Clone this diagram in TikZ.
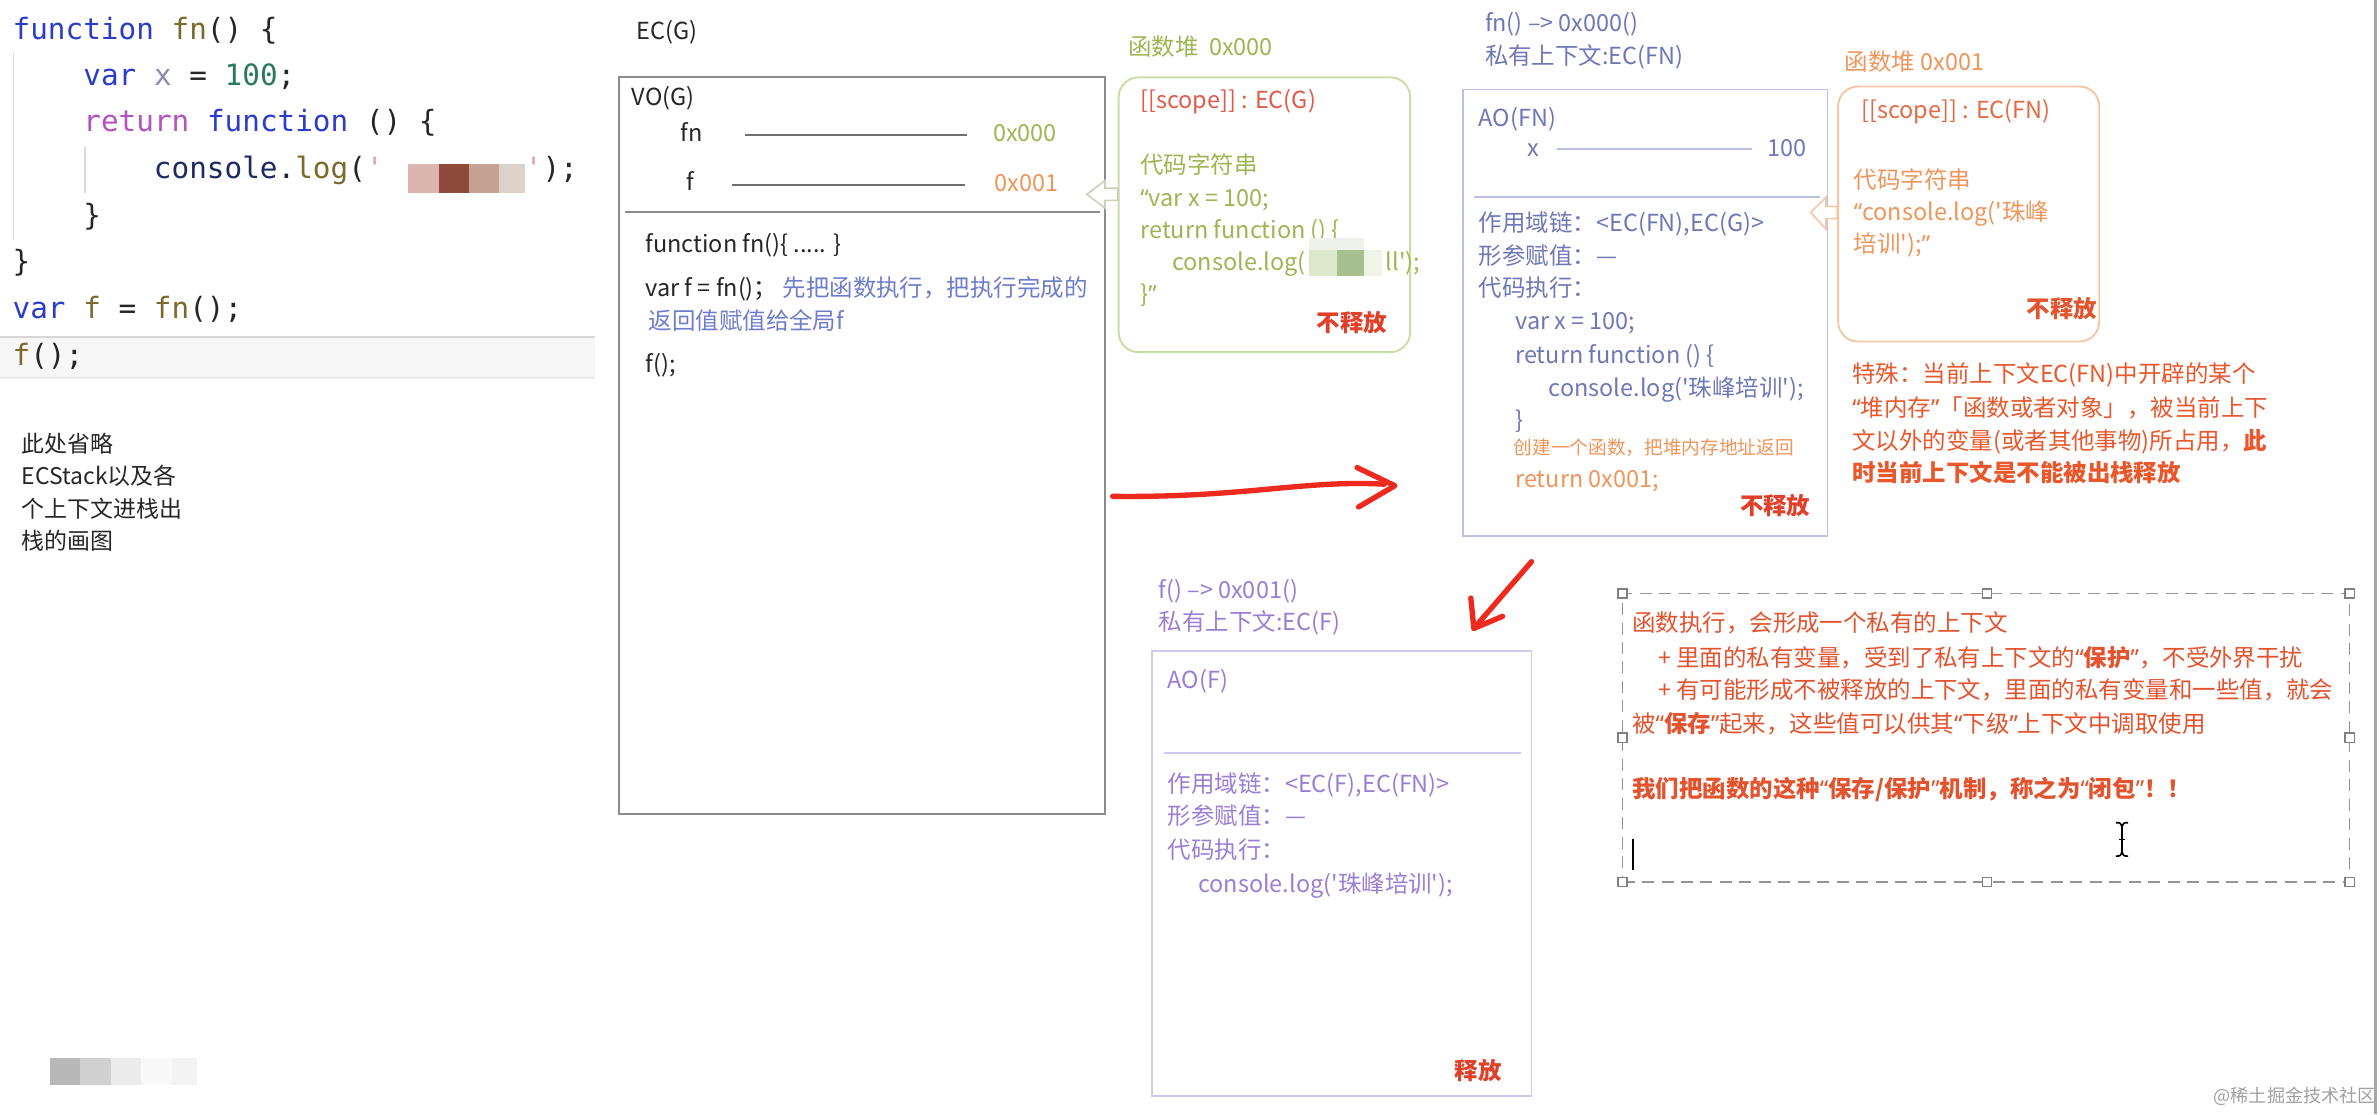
\documentclass[tikz,border=0pt]{standalone}
\usepackage{fontspec}
\setmainfont{Noto Sans CJK SC}
\setmonofont{DejaVu Sans Mono}
\newfontfamily\qfont{Noto Sans}
\font\aposfont="Noto Sans CJK SC" at 8.8pt
\newcommand\qlo{{\qfont “}}
\newcommand\qrc{{\qfont ”}}
\newcommand\apo{{\aposfont '}}
\usetikzlibrary{fit,calc}
\definecolor{ink}{HTML}{262626}
\definecolor{ckwc}{HTML}{2B3CC8}
\definecolor{cfnc}{HTML}{7A6A2C}
\definecolor{cxc}{HTML}{8A8AB2}
\definecolor{cnumc}{HTML}{2A7A5E}
\definecolor{cretc}{HTML}{B452C2}
\definecolor{cconc}{HTML}{1F2A60}
\definecolor{cqc}{HTML}{E8A0A0}
\definecolor{gboxc}{HTML}{8C8C8C}
\definecolor{gline}{HTML}{707070}
\definecolor{bluc}{HTML}{6E7CCB}
\definecolor{grnc}{HTML}{9DB552}
\definecolor{grnb}{HTML}{CADDA2}
\definecolor{orgc}{HTML}{EF955A}
\definecolor{orgb}{HTML}{F5C6A6}
\definecolor{orgd}{HTML}{E36A44}
\definecolor{orge}{HTML}{E0552E}
\definecolor{redc}{HTML}{E0402A}
\definecolor{scopec}{HTML}{E05A4A}
\definecolor{avc}{HTML}{6F78B6}
\definecolor{avb}{HTML}{BCC0E4}
\definecolor{puc}{HTML}{9A7ED6}
\definecolor{pub}{HTML}{D0C8EE}
\definecolor{spc}{HTML}{E8582C}
\definecolor{dbc}{HTML}{E2532E}
\definecolor{penc}{HTML}{EE2A1E}
\definecolor{wmc}{HTML}{A0A0A0}
\definecolor{arrg}{HTML}{C9D3B6}
\definecolor{mza}{HTML}{DCB6AE}
\definecolor{mzb}{HTML}{8E4A3A}
\definecolor{mzc}{HTML}{C6A292}
\definecolor{mzd}{HTML}{DDD3CB}
\definecolor{gya}{HTML}{B8B8B8}
\definecolor{gyb}{HTML}{D0D0D0}
\definecolor{gyc}{HTML}{ECECEC}
\definecolor{gyd}{HTML}{F8F8F8}
\definecolor{gye}{HTML}{F3F3F3}
\definecolor{gma}{HTML}{EEF2EA}
\definecolor{gmb}{HTML}{DCE8CC}
\definecolor{gmc}{HTML}{A8C090}
\definecolor{gmd}{HTML}{EEF4E6}
\newcommand\ckw[1]{\textcolor{ckwc}{#1}}
\newcommand\cfnn[1]{\textcolor{cfnc}{#1}}
\newcommand\cxx[1]{\textcolor{cxc}{#1}}
\newcommand\cnm[1]{\textcolor{cnumc}{#1}}
\newcommand\crt[1]{\textcolor{cretc}{#1}}
\newcommand\ccn[1]{\textcolor{cconc}{#1}}
\newcommand\cqq[1]{\textcolor{cqc}{#1}}
\begin{document}
\begin{tikzpicture}[x=0.02cm,y=-0.02cm,
  txt/.style={anchor=west,inner sep=0pt,text height=6pt,text depth=0pt,font=\fontsize{8.8}{10}\selectfont},
  boldtxt/.style={txt,font=\bfseries\fontsize{8.8}{10}\selectfont},
  smalltxt/.style={txt,text height=4.8pt,font=\fontsize{7}{8}\selectfont},
  notetxt/.style={txt,text height=5.8pt,font=\fontsize{8.6}{10}\selectfont},
  codetxt/.style={anchor=west,inner sep=0pt,text height=6.6pt,text depth=0pt,font=\ttfamily\fontsize{11}{13}\selectfont,text=ink},
  plainbox/.style={draw,inner sep=0pt,line width=0.7pt},
  heapbox/.style={draw,inner sep=0pt,line width=0.7pt,rounded corners=7.4pt},
  vline/.style={draw=gline,line width=0.6pt},
  pen/.style={draw=penc,line width=2pt,line cap=round,line join=round},
  handle/.style={draw=gray,fill=white,line width=0.5pt},
  guide/.style={draw=black!15,line width=0.5pt}]

\useasboundingbox (0,0) rectangle (1568,734);
\fill[white] (0,0) rectangle (1568,734);

% ---------------- left code ----------------
\fill[black!3] (0,222) rectangle (392,249);
\draw[black!16,line width=0.6pt] (0,222) -- (392,222);
\draw[black!8,line width=0.5pt] (0,249) -- (392,249);
\draw[guide] (9,35) -- (9,158);
\draw[guide] (56,97) -- (56,127);
\node[codetxt] (c1) at (8,20) {\ckw{function} \cfnn{fn}() \{};
\node[codetxt] (c2) at (54.6,50.5) {\ckw{var} \cxx{x} = \cnm{100};};
\node[codetxt] (c3) at (54.6,81) {\crt{return} \ckw{function} () \{};
\node[codetxt] (c4) at (101.1,112) {\ccn{console}.\cfnn{log}(\cqq{'}\hphantom{xxxxxxxx}\cqq{'});};
\node[codetxt] (c5) at (54.6,143) {\}};
\node[codetxt] (c6) at (8,173) {\}};
\node[codetxt] (c7) at (8,204) {\ckw{var} \cfnn{f} = \cfnn{fn}();};
\node[codetxt] (c8) at (8,235) {\cfnn{f}();};
% mosaic
\fill[mza] (269,108) rectangle (289,127);
\fill[mzb] (289,108) rectangle (309,127);
\fill[mzc] (309,108) rectangle (329,127);
\fill[mzd] (329,108) rectangle (346,127);

% left note
\node[notetxt,text=ink] (n1) at (14,293) {此处省略};
\node[notetxt,text=ink] (n2) at (14,314) {ECStack以及各};
\node[notetxt,text=ink] (n3) at (14,336) {个上下文进栈出};
\node[notetxt,text=ink] (n4) at (14,357) {栈的画图};
\fill[gya] (33,697) rectangle (53,715);
\fill[gyb] (53,697) rectangle (73,715);
\fill[gyc] (73,697) rectangle (93,715);
\fill[gyd] (93,697) rectangle (113,715);
\fill[gye] (113,697) rectangle (130,715);

% ---------------- EC(G) ----------------
\node[txt,text=ink] (ecglab) at (419,21) {EC(G)};
\node[plainbox,draw=gboxc,fit={(408,51) (728,536)}] (ecg) {};
\draw[gboxc,line width=0.7pt] (412,139.5) -- (725,139.5);
\node[txt,text=ink] (vog) at (416,64) {VO(G)};
\node[txt,text=ink] (vfn) at (448,88) {fn};
\node[txt,text=grnc] (a000) at (654,88) {0x000};
\draw[vline] (491,89) -- (637,89);
\node[txt,text=ink] (vf) at (452,120) {f};
\node[txt,text=orgc] (a001) at (655,121) {0x001};
\draw[vline] (482,122) -- (636,122);
\node[txt,text=ink] (g1) at (425,161) {function fn()\{ ..... \}};
\node[txt,text=ink] (g2) at (425,190) {var f = fn()； \textcolor{bluc}{先把函数执行，把执行完成的}};
\node[txt,text=bluc] (g3) at (427,212) {返回值赋值给全局f};
\node[txt,text=ink] (g4) at (425,240) {f();};

% ---------------- heap 0x000 ----------------
\node[txt,text=grnc] (h0lab) at (743,31) {函数堆\ \ 0x000};
\node[heapbox,draw=grnb,fit={(737,51) (929,232)}] (h0) {};
\node[txt,text=scopec] (h0a) at (751,66) {[[scope]] : EC(G)};
\node[txt,text=grnc] (h0b) at (751,109) {代码字符串};
\node[txt,text=grnc] (h0c) at (751,131) {\qlo var x = 100;};
\node[txt,text=grnc] (h0d) at (751,152) {return function () \{};
\node[txt,text=grnc] (h0e) at (772,173) {console.log(};
\fill[gma] ($(h0e.east)+(2,-16)$) rectangle ($(h0e.east)+(38,-8)$);
\fill[gmb] ($(h0e.east)+(2,-8)$) rectangle ($(h0e.east)+(20,9)$);
\fill[gmc] ($(h0e.east)+(20,-8)$) rectangle ($(h0e.east)+(38,9)$);
\fill[gmd] ($(h0e.east)+(38,-8)$) rectangle ($(h0e.east)+(50,9)$);
\node[txt,text=grnc] (h0f) at ($(h0e.east)+(52,0)$) {ll\apo);};
\node[txt,text=grnc] (h0g) at (751,194) {\}\qrc};
\node[boldtxt,text=redc] (h0h) at (867,213) {不释放};
% open arrow heap 0x000 -> EC(G)
\coordinate (ba1) at (716,128);
\draw[arrg,line width=0.6pt,fill=white] (ba1) -- (728,119) -- (728,124) -- (h0.west |- 0,124) -- (h0.west |- 0,132) -- (728,132) -- (728,137) -- cycle;

% ---------------- EC(FN) ----------------
\node[txt,text=avc] (fnl1) at (978,15.5) {fn() –> 0x000()};
\node[txt,text=avc] (fnl2) at (978,37) {私有上下文:EC(FN)};
\node[plainbox,draw=avb,fit={(964,59) (1204,353)}] (aofn) {};
\draw[avb,line width=0.8pt] (971,130) -- (1199,130);
\node[txt,text=avc] (f1) at (974,78) {AO(FN)};
\node[txt,text=avc] (f2) at (1006,98) {x};
\draw[avb,line width=0.7pt] (1026,98) -- (1154,98);
\node[txt,text=avc] (f3) at (1164,98) {100};
\node[txt,text=avc] (f4) at (974,147) {作用域链：<EC(FN),EC(G)>};
\node[txt,text=avc] (f5) at (974,169) {形参赋值：—};
\node[txt,text=avc] (f6) at (974,190) {代码执行：};
\node[txt,text=avc] (f7) at (998,212) {var x = 100;};
\node[txt,text=avc] (f8) at (998,234) {return function () \{};
\node[txt,text=avc] (f9) at (1020,256) {console.log(\apo 珠峰培训\apo);};
\node[txt,text=avc] (f10) at (998,277) {\}};
\node[smalltxt,text=orgc] (f11) at (997,295) {创建一个函数，把堆内存地址返回};
\node[txt,text=orgc] (f12) at (998,316) {return 0x001;};
\node[boldtxt,text=redc] (f13) at (1146,334) {不释放};

% ---------------- heap 0x001 ----------------
\node[txt,text=orgc] (h1lab) at (1215,41) {函数堆 0x001};
\node[heapbox,draw=orgb,fit={(1211,57) (1383,225)}] (h1) {};
\node[txt,text=orgd] (h1a) at (1226,72.5) {[[scope]] : EC(FN)};
\node[txt,text=orgc] (h1b) at (1221,118.6) {代码字符串};
\node[txt,text=orgc] (h1c) at (1221,140) {\qlo console.log(\apo 珠峰};
\node[txt,text=orgc] (h1d) at (1221,161) {培训\apo);\qrc};
\node[boldtxt,text=orge] (h1e) at (1335,204) {不释放};
\coordinate (ba2) at (1193,140);
\draw[orgb,line width=0.6pt,fill=white] (ba2) -- (1203,130) -- (1203,136) -- (h1.west |- 0,136) -- (h1.west |- 0,144) -- (1203,144) -- (1203,151) -- cycle;

\node[txt,text=spc] (s1) at (1220,247) {特殊：当前上下文EC(FN)中开辟的某个};
\node[txt,text=spc] (s2) at (1220,269) {\qlo 堆内存\qrc 「函数或者对象」，被当前上下};
\node[txt,text=spc] (s3) at (1220,291) {文以外的变量(或者其他事物)所占用，\textbf{此}};
\node[boldtxt,text=spc] (s4) at (1220,312) {时当前上下文是不能被出栈释放};

% ---------------- red arrows ----------------
\coordinate (ra1) at (733,327);
\coordinate (ra1e) at (919,320);
\draw[pen] (ra1) .. controls (820,328) and (860,316) .. (912,319);
\draw[pen] (894,308) -- (ra1e) -- (895,334);
\coordinate (ra2) at (1009,370);
\coordinate (ra2e) at (971,414);
\draw[pen] (ra2) -- (ra2e);
\draw[pen] (969,394) -- (ra2e) -- (990,406);

% ---------------- EC(F) ----------------
\node[txt,text=puc] (fl1) at (763,389) {f() –> 0x001()};
\node[txt,text=puc] (fl2) at (763,410) {私有上下文:EC(F)};
\node[plainbox,draw=pub,fit={(759,429) (1009,722)}] (aof) {};
\draw[pub,line width=0.8pt] (767,496) -- (1002,496);
\node[txt,text=puc] (p1) at (769,448) {AO(F)};
\node[txt,text=puc] (p2) at (769,517) {作用域链：<EC(F),EC(FN)>};
\node[txt,text=puc] (p3) at (769,538) {形参赋值：—};
\node[txt,text=puc] (p4) at (769,560) {代码执行：};
\node[txt,text=puc] (p5) at (789,583) {console.log(\apo 珠峰培训\apo);};
\node[boldtxt,text=redc] (p6) at (958,706) {释放};

% ---------------- dashed note ----------------
\node[draw=gray!85,dash pattern=on 4.5pt off 2.8pt,line width=0.6pt,inner sep=0pt,fit={(1069,391) (1548,581)}] (note) {};
\foreach \hx/\hy in {1069/391,1309/391,1548/391,1069/486,1548/486,1069/581,1309/581,1548/581}
  \draw[handle] (\hx-3,\hy-3) rectangle (\hx+3,\hy+3);
\node[txt,text=dbc] (d1) at (1075,411) {函数执行，会形成一个私有的上下文};
\node[txt,text=dbc] (d2) at (1092,434) {+ 里面的私有变量，受到了私有上下文的\textbf{\qlo 保护\qrc}，不受外界干扰};
\node[txt,text=dbc] (d3) at (1092,455) {+ 有可能形成不被释放的上下文，里面的私有变量和一些值，就会};
\node[txt,text=dbc] (d4) at (1075,477) {被\textbf{\qlo 保存\qrc}起来，这些值可以供其\qlo 下级\qrc 上下文中调取使用};
\node[boldtxt,text=dbc] (d5) at (1075,520) {我们把函数的这种\qlo 保存/保护\qrc 机制，称之为\qlo 闭包\qrc ！！};
\draw[black,line width=0.9pt] (1076,553) -- (1076,573);
\draw[black,line width=0.6pt] (1398,545) -- (1398,561);
\draw[black,line width=0.6pt] (1394,542) .. controls (1397,542) .. (1398,545) .. controls (1399,542) .. (1402,542);
\draw[black,line width=0.6pt] (1394,564) .. controls (1397,564) .. (1398,561) .. controls (1399,564) .. (1402,564);
\draw[black,line width=0.6pt] (1396,553) -- (1400,553);

% right edge and watermark
\draw[black!35,line width=1.2pt] (1565,0) -- (1565,734);
\node[txt,text height=4.6pt,text=wmc,font=\fontsize{6.8}{8}\selectfont] (wm) at (1458,722) {@稀土掘金技术社区};
\end{tikzpicture}
\end{document}
